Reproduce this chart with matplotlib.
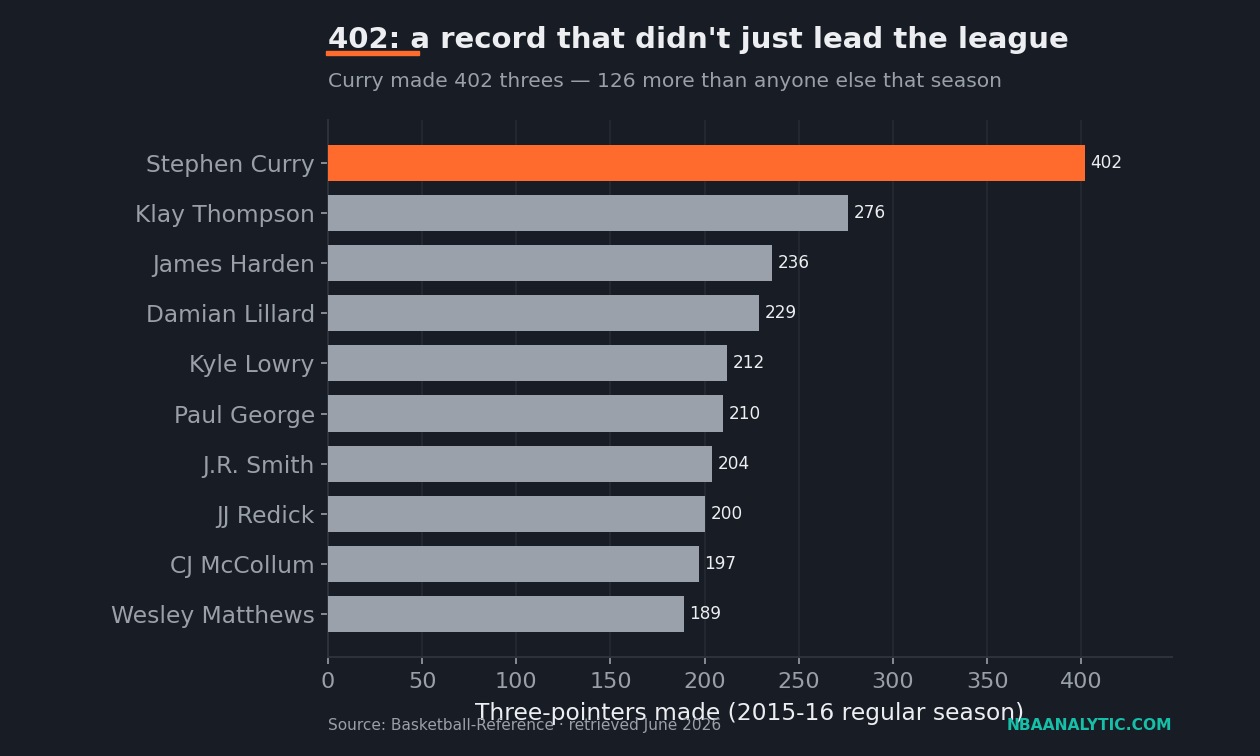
import matplotlib
matplotlib.use("Agg")
import matplotlib.pyplot as plt
from matplotlib.patches import Rectangle

players = ["Stephen Curry", "Klay Thompson", "James Harden", "Damian Lillard",
           "Kyle Lowry", "Paul George", "J.R. Smith", "JJ Redick",
           "CJ McCollum", "Wesley Matthews"]
threes = [402, 276, 236, 229, 212, 210, 204, 200, 197, 189]

BG = "#181c24"
GRAY = "#9aa1ab"
ORANGE = "#ff6b2c"
GRID = "#262b33"
TEXT = "#eceef1"
MUTED = "#9aa0a8"
TEAL = "#16bfa8"

fig = plt.figure(figsize=(12.6, 7.56), dpi=100, facecolor=BG)
ax = fig.add_axes([0.2603, 0.131, 0.6699, 0.7103])
ax.set_facecolor(BG)

colors = [ORANGE if i == 0 else GRAY for i in range(len(players))]
ypos = list(range(len(players)))
bars = ax.barh(ypos, threes, height=0.72, color=colors, zorder=3)
for y, v in zip(ypos, threes):
    ax.text(v + 3, y, str(v), va="center", ha="left", fontsize=12.2, color=TEXT, zorder=4)

ax.set_yticks(ypos)
ax.set_yticklabels(players)
ax.set_ylim(len(players) - 0.15, -0.85)
ax.set_xlim(0, max(threes) * 1.115)
ax.set_xticks(range(0, 401, 50))
ax.tick_params(axis="both", colors=MUTED, labelsize=16, length=5, width=1.2)
ax.tick_params(axis="y", labelsize=16.8, pad=4.5)
ax.tick_params(axis="x", pad=6)
ax.grid(axis="x", color=GRID, linewidth=1.2, zorder=0)
for side in ["top", "right"]:
    ax.spines[side].set_visible(False)
for side in ["left", "bottom"]:
    ax.spines[side].set_color("#2c313a")
    ax.spines[side].set_linewidth(1.5)

ax.set_xlabel("Three-pointers made (2015-16 regular season)", color=TEXT, fontsize=16.8, labelpad=7)

fig.text(0.2603, 0.947, "402: a record that didn't just lead the league",
         fontsize=21, fontweight="bold", color=TEXT, ha="left", va="center")
fig.patches.append(Rectangle((326 / 1260, 1 - 55 / 756), 93 / 1260, 4 / 756,
                             transform=fig.transFigure, color=ORANGE, figure=fig))
fig.text(0.2603, 0.892, "Curry made 402 threes \u2014 126 more than anyone else that season",
         fontsize=14.6, color=MUTED, ha="left", va="center")

fig.text(0.2603, 0.041, "Source: Basketball-Reference \u00b7 retrieved June 2026",
         fontsize=11.1, color=MUTED, ha="left", va="center")
fig.text(0.9302, 0.041, "NBAANALYTIC.COM", fontsize=11.2, fontweight="bold",
         color=TEAL, ha="right", va="center")

fig.savefig("out.png", dpi=100, facecolor=BG)
